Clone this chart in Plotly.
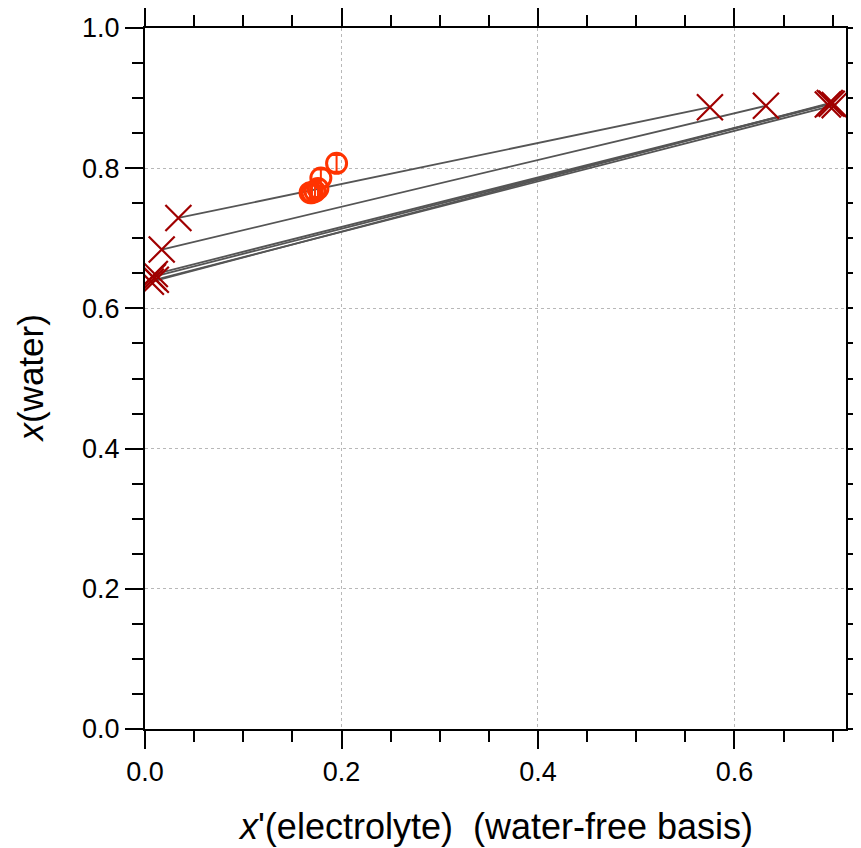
import plotly.graph_objects as go

# Tie-line end points (x' electrolyte water-free basis, x water)
left_x = [0.034, 0.017, 0.010, 0.008, 0.011, 0.006]
left_y = [0.729, 0.684, 0.649, 0.645, 0.641, 0.638]
right_x = [0.575, 0.632, 0.695, 0.699, 0.702, 0.697]
right_y = [0.887, 0.889, 0.891, 0.892, 0.890, 0.893]

# Open circles with error bars
circ_x = [0.195, 0.179, 0.176, 0.173, 0.170, 0.168]
circ_y = [0.807, 0.786, 0.771, 0.767, 0.765, 0.765]
circ_err = [0.012, 0.012, 0.012, 0.012, 0.012, 0.012]

x_ticks = [0.0, 0.2, 0.4, 0.6]
y_ticks = [0.0, 0.2, 0.4, 0.6, 0.8, 1.0]

FONT = "Liberation Sans, Arial, sans-serif"
XCOL = "#A00000"
OCOL = "#FF3300"

line_x, line_y = [], []
for x0, y0, x1, y1 in zip(left_x, left_y, right_x, right_y):
    line_x += [x0, x1, None]
    line_y += [y0, y1, None]

fig = go.Figure()
fig.add_trace(go.Scatter(x=line_x, y=line_y, mode="lines",
                         line=dict(color="#555555", width=1.8),
                         hoverinfo="skip", showlegend=False))
fig.add_trace(go.Scatter(x=left_x + right_x, y=left_y + right_y, mode="markers",
                         marker=dict(symbol="x-thin-open", size=26, color=XCOL,
                                     line=dict(color=XCOL, width=2.2)),
                         showlegend=False))
fig.add_trace(go.Scatter(x=circ_x, y=circ_y, mode="markers",
                         marker=dict(symbol="circle-open", size=20, color=OCOL,
                                     line=dict(color=OCOL, width=3)),
                         error_y=dict(type="data", array=circ_err, visible=True,
                                      color=OCOL, thickness=2, width=5),
                         showlegend=False))

axis_common = dict(
    showline=True, linecolor="black", linewidth=2, mirror="allticks",
    ticks="outside", ticklen=18, tickwidth=2, tickcolor="black",
    showgrid=True, gridcolor="#b8b8b8", griddash="3px,3px", gridwidth=1,
    zeroline=False, automargin=False,
    tickfont=dict(family=FONT, size=27, color="black"),
    minor=dict(ticks="outside", ticklen=11, tickwidth=2, tickcolor="black",
               dtick=0.05, showgrid=False),
)

fig.update_layout(
    width=861, height=848,
    margin=dict(l=137, r=23, t=20, b=127),
    plot_bgcolor="white", paper_bgcolor="white",
    xaxis=dict(range=[0, 0.7135], tickvals=x_ticks, ticktext=[f"{v:.1f}" for v in x_ticks],
               **axis_common),
    yaxis=dict(range=[0, 1.0], tickvals=y_ticks, ticktext=[f"{v:.1f}" for v in y_ticks],
               **axis_common),
    annotations=[
        dict(text="<i>x</i>'(electrolyte)\u00a0 (water-free basis)", xref="paper", yref="paper",
             x=0.5, y=-0.139, xanchor="center", yanchor="middle", showarrow=False,
             font=dict(family=FONT, size=36, color="black")),
        dict(text="<i>x</i>(water)", xref="paper", yref="paper",
             x=-0.164, y=0.5, xanchor="center", yanchor="middle", textangle=-90,
             showarrow=False, font=dict(family=FONT, size=35, color="black")),
    ],
)

fig.write_html("out.html")
